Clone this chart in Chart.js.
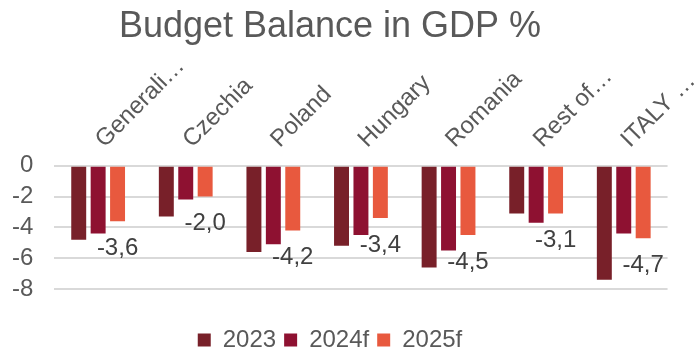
<!DOCTYPE html>
<html>
<head>
<meta charset="utf-8">
<script src="https://cdn.jsdelivr.net/npm/chart.js@4"></script>
<style>
  html, body { margin: 0; padding: 0; background: #fff; }
  #wrap { width: 696px; height: 352px; }
</style>
</head>
<body>
<div id="wrap"><canvas id="budgetChart"></canvas></div>
<script>
const categories = ['Generali…', 'Czechia', 'Poland', 'Hungary', 'Romania', 'Rest of…', 'ITALY …'];
const balance2023 = [-4.8, -3.3, -5.6, -5.2, -6.6, -3.1, -7.4];
const balance2024f = [-4.4, -2.2, -5.1, -4.5, -5.5, -3.7, -4.4];
const balance2025f = [-3.6, -2.0, -4.2, -3.4, -4.5, -3.1, -4.7];
const yTicks = [0, -2, -4, -6, -8];

const textColor = '#595959';
const fontFamily = '"Liberation Sans", Arial, sans-serif';

// value labels under the 2025f bars, comma as decimal mark
const barLabels = {
    id: 'barLabels',
    afterDatasetsDraw(chart) {
        const ctx = chart.ctx;
        const meta = chart.getDatasetMeta(2);
        ctx.save();
        ctx.font = '24px ' + fontFamily;
        ctx.fillStyle = '#404040';
        ctx.textAlign = 'center';
        ctx.textBaseline = 'middle';
        meta.data.forEach((bar, i) => {
            const text = balance2025f[i].toFixed(1).replace('.', ',');
            ctx.fillText(text, bar.x, bar.y + 27);
        });
        ctx.restore();
    }
};

const ctx = document.getElementById('budgetChart').getContext('2d');
new Chart(ctx, {
    type: 'bar',
    data: {
        labels: categories,
        datasets: [{
            label: '2023',
            data: balance2023,
            backgroundColor: '#782029'
        }, {
            label: '2024f',
            data: balance2024f,
            backgroundColor: '#8E1131'
        }, {
            label: '2025f',
            data: balance2025f,
            backgroundColor: '#E8593E'
        }]
    },
    options: {
        responsive: true,
        maintainAspectRatio: false,
        animation: false,
        categoryPercentage: 0.665,
        barPercentage: 0.77,
        layout: {
            padding: { left: -9, right: 27, top: 0, bottom: -10 }
        },
        plugins: {
            title: {
                display: true,
                text: 'Budget Balance in GDP %',
                color: textColor,
                font: { family: fontFamily, size: 36, weight: 'normal' },
                padding: { top: 5, bottom: 0 }
            },
            legend: {
                position: 'bottom',
                labels: {
                    color: textColor,
                    font: { family: fontFamily, size: 24 },
                    boxWidth: 13,
                    boxHeight: 13,
                    padding: 8
                }
            },
            tooltip: { enabled: false }
        },
        scales: {
            x: {
                position: 'top',
                grid: { display: false },
                border: { display: false },
                ticks: {
                    color: textColor,
                    font: { family: fontFamily, size: 24 },
                    minRotation: 45,
                    maxRotation: 45,
                    autoSkip: false,
                    labelOffset: 22,
                    padding: 4
                }
            },
            // empty strip that keeps the legend clear of the plot
            gap: {
                type: 'category',
                position: 'bottom',
                grid: { display: false },
                border: { display: false },
                ticks: { display: false },
                afterFit: function(axis) {
                    axis.height = 31;
                }
            },
            y: {
                min: yTicks[yTicks.length - 1],
                max: yTicks[0],
                grid: { color: '#D9D9D9', lineWidth: 2, drawTicks: false },
                border: { display: false },
                afterBuildTicks: function(axis) {
                    axis.ticks = yTicks.map(v => ({ value: v }));
                },
                ticks: {
                    color: textColor,
                    font: { family: fontFamily, size: 24 },
                    autoSkip: false,
                    padding: 21
                }
            }
        }
    },
    plugins: [barLabels]
});
</script>
</body>
</html>
